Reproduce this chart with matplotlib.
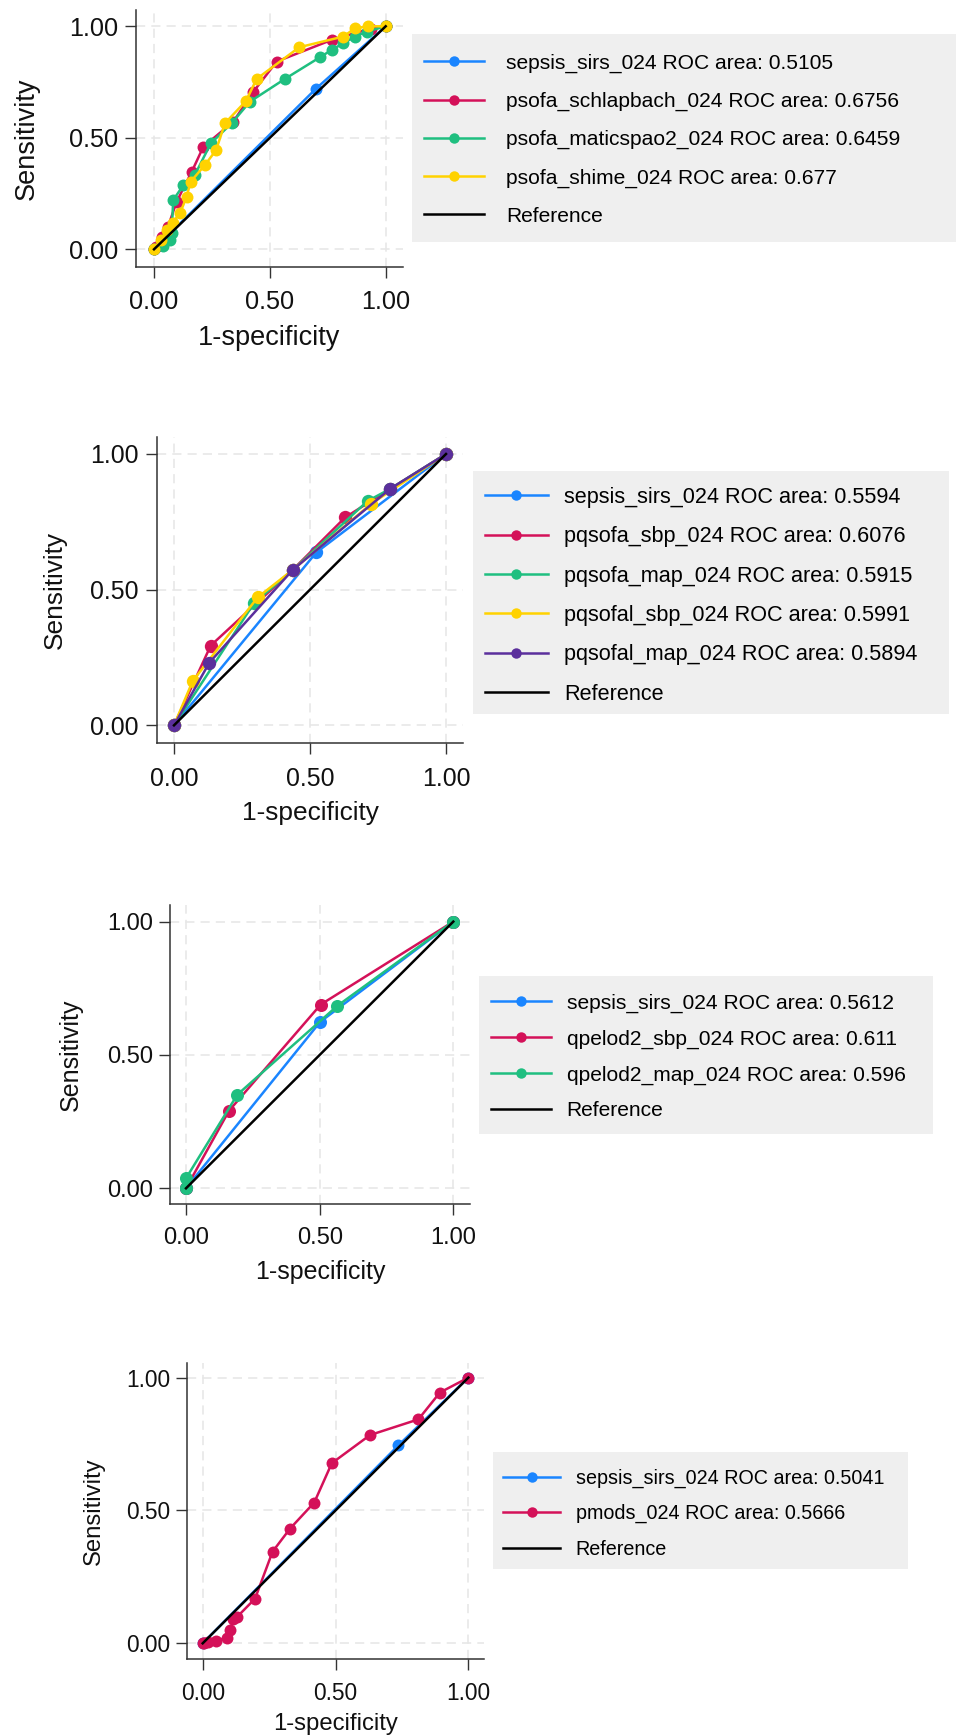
import matplotlib
matplotlib.use("Agg")
import matplotlib.pyplot as plt
from matplotlib.lines import Line2D
from matplotlib.patches import Rectangle

plt.rcParams["font.family"] = ["Liberation Sans", "DejaVu Sans"]

# ---------------------------------------------------------------- data
tick_values = [0.0, 0.5, 1.0]
tick_labels = ["0.00", "0.50", "1.00"]
ref_x = [0.0, 1.0]
ref_y = [0.0, 1.0]

# Panel 1: SIRS against three pSOFA variants
p1_names = ["sepsis_sirs_024", "psofa_schlapbach_024",
            "psofa_maticspao2_024", "psofa_shime_024"]
p1_auc = ["0.5105", "0.6756", "0.6459", "0.677"]
p1_sirs_x = [0.0, 0.700, 1.0]
p1_sirs_y = [0.0, 0.721, 1.0]
p1_schlap_x = [0.0, 0.010, 0.033, 0.060, 0.098, 0.163, 0.213, 0.342, 0.429,
               0.530, 0.767, 0.935, 1.0]
p1_schlap_y = [0.0, 0.010, 0.054, 0.100, 0.214, 0.348, 0.460, 0.572, 0.707,
               0.842, 0.939, 0.990, 1.0]
p1_matic_x = [0.0, 0.040, 0.069, 0.076, 0.083, 0.127, 0.177, 0.245, 0.335,
              0.414, 0.565, 0.716, 0.767, 0.817, 0.868, 0.918, 1.0]
p1_matic_y = [0.0, 0.015, 0.042, 0.072, 0.221, 0.288, 0.335, 0.475, 0.565,
              0.662, 0.764, 0.861, 0.894, 0.924, 0.954, 0.976, 1.0]
p1_shime_x = [0.0, 0.030, 0.055, 0.080, 0.112, 0.141, 0.158, 0.220, 0.268,
              0.306, 0.397, 0.443, 0.627, 0.817, 0.868, 0.925, 1.0]
p1_shime_y = [0.0, 0.040, 0.087, 0.120, 0.161, 0.236, 0.303, 0.378, 0.445,
              0.565, 0.665, 0.764, 0.906, 0.954, 0.991, 1.000, 1.0]

# Panel 2: SIRS against quick-SOFA variants
p2_names = ["sepsis_sirs_024", "pqsofa_sbp_024", "pqsofa_map_024",
            "pqsofal_sbp_024", "pqsofal_map_024"]
p2_auc = ["0.5594", "0.6076", "0.5915", "0.5991", "0.5894"]
p2_sirs_x = [0.0, 0.523, 1.0]
p2_sirs_y = [0.0, 0.637, 1.0]
p2_qsbp_x = [0.0, 0.135, 0.436, 0.629, 0.794, 1.0]
p2_qsbp_y = [0.0, 0.294, 0.5725, 0.766, 0.871, 1.0]
p2_qmap_x = [0.0, 0.294, 0.436, 0.712, 0.794, 1.0]
p2_qmap_y = [0.0, 0.450, 0.5725, 0.827, 0.871, 1.0]
p2_qlsbp_x = [0.0, 0.0686, 0.3076, 0.436, 0.724, 1.0]
p2_qlsbp_y = [0.0, 0.163, 0.4717, 0.5725, 0.8157, 1.0]
p2_qlmap_x = [0.0, 0.130, 0.436, 0.794, 1.0]
p2_qlmap_y = [0.0, 0.231, 0.5725, 0.871, 1.0]

# Panel 3: SIRS against quick-PELOD-2 variants
p3_names = ["sepsis_sirs_024", "qpelod2_sbp_024", "qpelod2_map_024"]
p3_auc = ["0.5612", "0.611", "0.596"]
p3_sirs_x = [0.0, 0.502, 1.0]
p3_sirs_y = [0.0, 0.624, 1.0]
p3_psbp_x = [0.0, 0.161, 0.504, 1.0]
p3_psbp_y = [0.0, 0.291, 0.689, 1.0]
p3_pmap_x = [0.0, 0.0, 0.192, 0.566, 1.0]
p3_pmap_y = [0.0, 0.0375, 0.351, 0.684, 1.0]

# Panel 4: SIRS against pMODS
p4_names = ["sepsis_sirs_024", "pmods_024"]
p4_auc = ["0.5041", "0.5666"]
p4_sirs_x = [0.0, 0.7365, 1.0]
p4_sirs_y = [0.0, 0.745, 1.0]
p4_pmods_x = [0.0, 0.005, 0.020, 0.050, 0.090, 0.103, 0.115, 0.130, 0.197,
              0.263, 0.329, 0.420, 0.486, 0.630, 0.812, 0.893, 1.0]
p4_pmods_y = [0.0, 0.002, 0.005, 0.009, 0.021, 0.050, 0.090, 0.100, 0.168,
              0.345, 0.432, 0.530, 0.678, 0.784, 0.843, 0.944, 1.0]

# ---------------------------------------------------------------- style
COLORS = ["#1a85ff", "#d41159", "#1fbf80", "#ffd200", "#5b2f9c"]
GRID = "#e6e6e6"
AXIS = "#333333"
LEGEND_BG = "#efefef"
LW = 1.8

W, H = 972, 1736
fig = plt.figure(figsize=(W / 100, H / 100), dpi=100)
fig.patch.set_facecolor("white")


def fx(px):
    return px / W


def fy(py):
    return 1 - py / H


def roc_panel(box, xlim, ylim, tick_fs, title_fs, ypad, xpad,
              ylab_x, xlab_y):
    left, top, right, bottom = box
    ax = fig.add_axes([fx(left), fy(bottom), (right - left) / W,
                       (bottom - top) / H])
    ax.set_xlim(*xlim)
    ax.set_ylim(*ylim)
    for side in ("top", "right"):
        ax.spines[side].set_visible(False)
    for side in ("left", "bottom"):
        ax.spines[side].set_color(AXIS)
        ax.spines[side].set_linewidth(1.1)
    ax.set_xticks(tick_values)
    ax.set_xticklabels(tick_labels)
    ax.set_yticks(tick_values)
    ax.set_yticklabels(tick_labels)
    ax.tick_params(direction="out", length=7.6, width=1.0, color=AXIS,
                   labelsize=tick_fs, labelcolor="#111111")
    ax.tick_params(axis="y", pad=ypad)
    ax.tick_params(axis="x", pad=xpad)
    ax.grid(True, color=GRID, lw=1.1, linestyle=(0, (6, 4)))
    ax.set_axisbelow(True)
    ax.set_ylabel("Sensitivity", fontsize=title_fs, color="#111111",
                  va="baseline")
    ax.set_xlabel("1-specificity", fontsize=title_fs, color="#111111",
                  va="baseline")
    ymid = fy((top + bottom) / 2)
    xmid = fx((left + right) / 2)
    ax.yaxis.set_label_coords(fx(ylab_x), ymid, transform=fig.transFigure)
    ax.xaxis.set_label_coords(xmid, fy(xlab_y), transform=fig.transFigure)
    return ax


def draw_curves(ax, curves, ms):
    for (x, y), c in zip(curves, COLORS):
        ax.plot(x, y, color=c, lw=LW, marker="o", ms=ms, mew=0,
                solid_joinstyle="round", solid_capstyle="round")
    ax.plot(ref_x, ref_y, color="black", lw=LW)


def draw_legend(names, aucs, box, handle_x, first_row, spacing, fs_pt,
                handle_len, text_gap):
    l, t, r, b = box
    fig.add_artist(Rectangle((fx(l), fy(b)), (r - l) / W, (b - t) / H,
                             transform=fig.transFigure, facecolor=LEGEND_BG,
                             edgecolor="none", zorder=0))
    em = fs_pt * 100 / 72
    handles = [Line2D([0], [0], color=c, lw=LW, marker="o", ms=7.5, mew=0)
               for c in COLORS[:len(names)]]
    handles.append(Line2D([0], [0], color="black", lw=LW))
    labels = [f"{n} ROC area: {a}" for n, a in zip(names, aucs)]
    labels.append("Reference")
    fig.legend(handles, labels, loc="upper left",
               bbox_to_anchor=(fx(handle_x), fy(first_row - 0.38 * em)),
               bbox_transform=fig.transFigure, frameon=False, borderpad=0,
               borderaxespad=0, fontsize=fs_pt, numpoints=1,
               handlelength=handle_len / em, handletextpad=text_gap / em,
               labelspacing=spacing / em - 0.94)


# ---------------------------------------------------------------- panel 1
ax1 = roc_panel((136, 10, 403, 266.7), (-0.0777, 1.0747), (-0.078, 1.073),
                18.2, 19.5, 5.4, 9.2, 33.3, 345)
draw_curves(ax1, [(p1_sirs_x, p1_sirs_y), (p1_schlap_x, p1_schlap_y),
                  (p1_matic_x, p1_matic_y), (p1_shime_x, p1_shime_y)], 8.6)
draw_legend(p1_names, p1_auc, (412, 34, 956, 242), 424, 61.7, 38.7, 15.1,
            60, 22)

# ---------------------------------------------------------------- panel 2
ax2 = roc_panel((157, 436.7, 463.3, 742.7), (-0.0625, 1.0636),
                (-0.064, 1.0637), 17.9, 18.9, 5.9, 9.7, 61.7, 820)
draw_curves(ax2, [(p2_sirs_x, p2_sirs_y), (p2_qsbp_x, p2_qsbp_y),
                  (p2_qmap_x, p2_qmap_y), (p2_qlsbp_x, p2_qlsbp_y),
                  (p2_qlmap_x, p2_qlmap_y)], 9.6)
draw_legend(p2_names, p2_auc, (473, 470.5, 949, 714), 485, 495.3, 38.7, 15.6,
            62.5, 16.3)

# ---------------------------------------------------------------- panel 3
ax3 = roc_panel((170, 905, 470, 1204.3), (-0.0599, 1.0625), (-0.06, 1.0623),
                17.1, 18.0, 4.9, 8.6, 78.3, 1278.6)
draw_curves(ax3, [(p3_sirs_x, p3_sirs_y), (p3_psbp_x, p3_psbp_y),
                  (p3_pmap_x, p3_pmap_y)], 9.4)
draw_legend(p3_names, p3_auc, (479, 975.7, 932.7, 1134), 490.7, 1001.7, 36.3,
            15.1, 60, 16)

# ---------------------------------------------------------------- panel 4
ax4 = roc_panel((187.3, 1363.3, 484, 1659.3), (-0.058, 1.059),
                (-0.0602, 1.054), 16.4, 17.2, 4.4, 8.6, 100, 1730)
draw_curves(ax4, [(p4_sirs_x, p4_sirs_y), (p4_pmods_x, p4_pmods_y)], 8.6)
draw_legend(p4_names, p4_auc, (492.7, 1452, 908, 1569.3), 503.3, 1476, 35,
            14.2, 56.7, 15.7)

fig.savefig("out.png", dpi=100, facecolor="white")
